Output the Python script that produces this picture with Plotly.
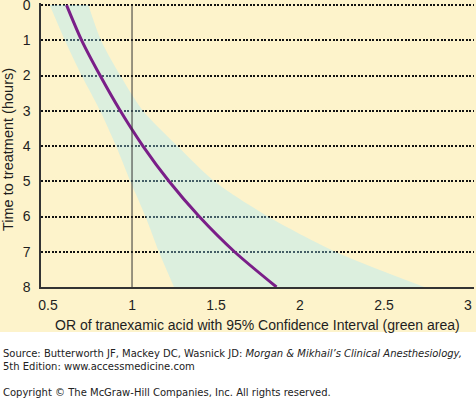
import plotly.graph_objects as go

# ---- data ----
hours = [0, 1, 2, 3, 4, 5, 6, 7, 8]
or_estimate = [0.61, 0.70, 0.81, 0.93, 1.065, 1.22, 1.40, 1.61, 1.86]
ci_lower = [0.51, 0.60, 0.70, 0.81, 0.905, 0.99, 1.08, 1.16, 1.25]
ci_upper = [0.74, 0.815, 0.93, 1.065, 1.27, 1.49, 1.81, 2.21, 2.74]

x_tickvals = [0.5, 1, 1.5, 2, 2.5, 3]
x_ticktext = ["0.5", "1", "1.5", "2", "2.5", "3"]
y_tickvals = [0, 1, 2, 3, 4, 5, 6, 7, 8]
y_ticktext = ["0", "1", "2", "3", "4", "5", "6", "7", "8"]
reference_or = 1

x_title = "OR of tranexamic acid with 95% Confidence Interval (green area)"
y_title = "Time to treatment (hours)"
source_line = ("Source: Butterworth JF, Mackey DC, Wasnick JD: "
               "<i>Morgan &amp; Mikhail’s Clinical Anesthesiology,</i><br>"
               "5th Edition: www.accessmedicine.com")
copyright_line = "Copyright © The McGraw-Hill Companies, Inc. All rights reserved."

# ---- layout geometry (pixels) ----
W, H = 476, 398
ML, MR, MT, MB = 41, 2, 3, 111
PW, PH = W - ML - MR, H - MT - MB

def px_x(px):
    return (px - ML) / PW

def px_y(py):
    return (H - MB - py) / PH

BEIGE = "#FDF3CB"
TXT = "#1e1e1e"
FONT = "Liberation Sans, Arial, sans-serif"
SMALL = "DejaVu Sans, Verdana, sans-serif"

fig = go.Figure()

# CI band
fig.add_trace(go.Scatter(
    x=ci_lower, y=hours, mode="lines",
    line=dict(width=0, shape="spline", smoothing=0.8),
    hoverinfo="skip", showlegend=False))
fig.add_trace(go.Scatter(
    x=ci_upper, y=hours, mode="lines",
    line=dict(width=0, shape="spline", smoothing=0.8),
    fill="tonextx", fillcolor="rgba(160,232,255,0.36)",
    hoverinfo="skip", showlegend=False))

# OR line
fig.add_trace(go.Scatter(
    x=or_estimate, y=hours, mode="lines",
    line=dict(color="#7A1E88", width=3, shape="spline", smoothing=0.8),
    hoverinfo="skip", showlegend=False))

# vertical reference line at OR = 1
fig.add_shape(type="line", xref="x", yref="y",
              x0=reference_or, x1=reference_or, y0=0, y1=8,
              line=dict(color="#333333", width=1))

# white lower band of the page
fig.add_shape(type="rect", xref="paper", yref="paper", layer="below",
              x0=px_x(-5), x1=px_x(W + 5), y0=px_y(332), y1=px_y(H + 5),
              line=dict(width=0), fillcolor="white")

fig.update_xaxes(
    range=[0.458, 3.036], tickvals=x_tickvals, ticktext=x_ticktext,
    showgrid=False, zeroline=False, showline=True, linecolor="#333333", linewidth=1.5,
    ticks="", tickfont=dict(family=FONT, size=14, color=TXT), ticklabelstandoff=4,
    ticklabeloverflow="allow", automargin=False, fixedrange=True)
fig.update_yaxes(
    range=[8, -0.06], tickvals=y_tickvals, ticktext=y_ticktext,
    showgrid=True, gridcolor="#111111", gridwidth=2, griddash="2px,1.6px",
    zeroline=False, showline=True, linecolor="#333333", linewidth=1.5,
    ticks="", tickfont=dict(family=FONT, size=14, color=TXT), ticklabelstandoff=6,
    ticklabeloverflow="allow", automargin=False, fixedrange=True)

annotations = [
    dict(text=x_title, xref="paper", yref="paper", x=px_x(257.5), y=px_y(325),
         xanchor="center", yanchor="middle", showarrow=False,
         font=dict(family=FONT, size=14, color=TXT)),
    dict(text=y_title, xref="paper", yref="paper", x=px_x(8), y=px_y(150),
         xanchor="center", yanchor="middle", showarrow=False, textangle=-90,
         font=dict(family=FONT, size=14.5, color=TXT)),
    dict(text=source_line, xref="paper", yref="paper", x=px_x(1), y=px_y(359.5),
         xanchor="left", yanchor="middle", align="left", showarrow=False,
         font=dict(family=SMALL, size=10, color="#222222")),
    dict(text=copyright_line, xref="paper", yref="paper", x=px_x(1), y=px_y(392.5),
         xanchor="left", yanchor="middle", align="left", showarrow=False,
         font=dict(family=SMALL, size=10, color="#222222")),
]

fig.update_layout(
    width=W, height=H, autosize=False,
    margin=dict(l=ML, r=MR, t=MT, b=MB, pad=0),
    paper_bgcolor=BEIGE, plot_bgcolor=BEIGE,
    annotations=annotations, showlegend=False,
)

fig.write_html("out.html", config={"displayModeBar": False},
               post_script="document.body.style.margin='0';document.body.style.padding='0';")
